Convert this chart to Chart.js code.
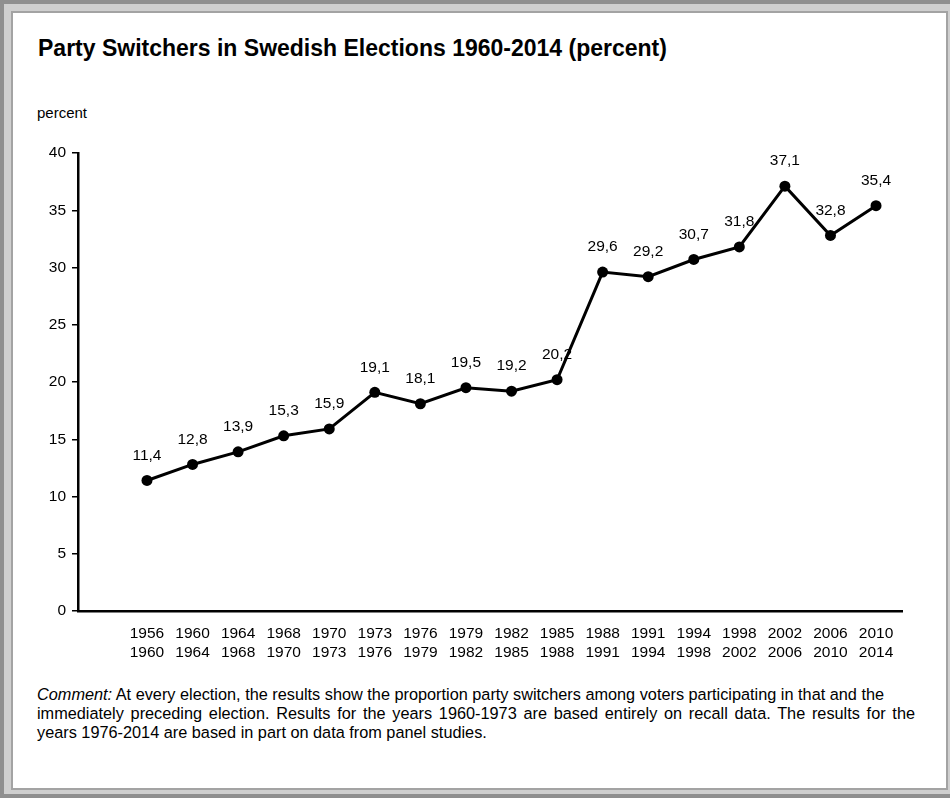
<!DOCTYPE html>
<html>
<head>
<meta charset="utf-8">
<script src="https://cdn.jsdelivr.net/npm/chart.js@4.4.1/dist/chart.umd.min.js"></script>
<style>
  body { margin: 0; background: #fff; font-family: "Liberation Sans", Arial, sans-serif; }
  .outer { position: absolute; left: 0; top: 0; width: 950px; height: 798px; box-sizing: border-box;
           background: #cfcfcf; border: 4px solid #8f8f8f; border-right: none; }
  .inner { position: absolute; left: 11px; top: 11px; width: 937px; height: 779px; box-sizing: border-box;
           background: #fff; border: 2px solid #a3a3a3; }
  #title { position: absolute; left: 38px; top: 35px; font-size: 23px; font-weight: bold; color: #000; white-space: nowrap; }
  #unit { position: absolute; left: 37px; top: 104px; font-size: 15px; color: #000; }
  #comment { position: absolute; left: 37px; top: 685px; width: 878px; font-size: 16.3px; line-height: 19px; color: #000; }
  #comment div { white-space: nowrap; }
  #comment .full { text-align: justify; text-align-last: justify; white-space: normal; }
  #chart { position: absolute; left: 0; top: 0; }
</style>
</head>
<body>
<div class="outer"></div>
<div class="inner"></div>
<div id="title">Party Switchers in Swedish Elections 1960-2014 (percent)</div>
<div id="unit">percent</div>
<canvas id="chart" width="952" height="680"></canvas>
<div id="comment">
  <div><i>Comment:</i> At every election, the results show the proportion party switchers among voters participating in that and the</div>
  <div class="full">immediately preceding election. Results for the years 1960-1973 are based entirely on recall data. The results for the</div>
  <div>years 1976-2014 are based in part on data from panel studies.</div>
</div>
<script>
let periods = [
  ['1956', '1960'], ['1960', '1964'], ['1964', '1968'], ['1968', '1970'], ['1970', '1973'],
  ['1973', '1976'], ['1976', '1979'], ['1979', '1982'], ['1982', '1985'], ['1985', '1988'],
  ['1988', '1991'], ['1991', '1994'], ['1994', '1998'], ['1998', '2002'], ['2002', '2006'],
  ['2006', '2010'], ['2010', '2014']
];
let switchers = [11.4, 12.8, 13.9, 15.3, 15.9, 19.1, 18.1, 19.5, 19.2, 20.2, 29.6, 29.2, 30.7, 31.8, 37.1, 32.8, 35.4];
let yTicks = [0, 5, 10, 15, 20, 25, 30, 35, 40];

let font = '"Liberation Sans", Arial, sans-serif';

// value labels above the points, decimal comma like the original
let valueLabels = {
  id: 'valueLabels',
  afterDatasetsDraw(chart) {
    let ctx = chart.ctx;
    let meta = chart.getDatasetMeta(0);
    ctx.save();
    ctx.fillStyle = '#000';
    ctx.font = '15.5px ' + font;
    ctx.textAlign = 'center';
    ctx.textBaseline = 'middle';
    meta.data.forEach((pt, i) => {
      ctx.fillText(switchers[i].toFixed(1).replace('.', ','), pt.x, pt.y - 25);
    });
    ctx.restore();
  }
};

let ctx = document.getElementById('chart').getContext('2d');
let myChart = new Chart(ctx, {
  type: 'line',
  data: {
    datasets: [{
      data: switchers.map((v, i) => ({ x: i, y: v })),
      borderColor: '#000',
      borderWidth: 3,
      backgroundColor: '#000',
      pointRadius: 5.5,
      pointBackgroundColor: '#000',
      pointBorderWidth: 0,
      tension: 0
    }]
  },
  options: {
    responsive: false,
    animation: false,
    layout: { padding: { top: 153, right: 50, bottom: 0, left: 0 } },
    plugins: {
      legend: { display: false },
      tooltip: { enabled: false }
    },
    scales: {
      x: {
        type: 'linear',
        min: -1.514,
        max: 16.57,
        afterBuildTicks: (scale) => {
          scale.ticks = periods.map((_, i) => ({ value: i }));
        },
        afterFit: (scale) => { scale.height = 69; },
        grid: { display: false, drawTicks: false },
        border: { display: true, color: '#000', width: 2.5 },
        ticks: {
          autoSkip: false,
          maxRotation: 0,
          padding: 13,
          color: '#000',
          font: { family: font, size: 15.5, lineHeight: 1.25 },
          callback: (v) => periods[v]
        }
      },
      y: {
        min: 0,
        max: 40,
        afterBuildTicks: (scale) => {
          scale.ticks = yTicks.map((v) => ({ value: v }));
        },
        afterFit: (scale) => { scale.width = 78; },
        grid: { drawOnChartArea: false, drawTicks: true, tickLength: 6, color: '#000', lineWidth: 1.5 },
        border: { display: true, color: '#000', width: 2.5 },
        ticks: {
          padding: 6,
          color: '#000',
          font: { family: font, size: 15.5 }
        }
      }
    }
  },
  plugins: [valueLabels]
});
</script>
</body>
</html>
